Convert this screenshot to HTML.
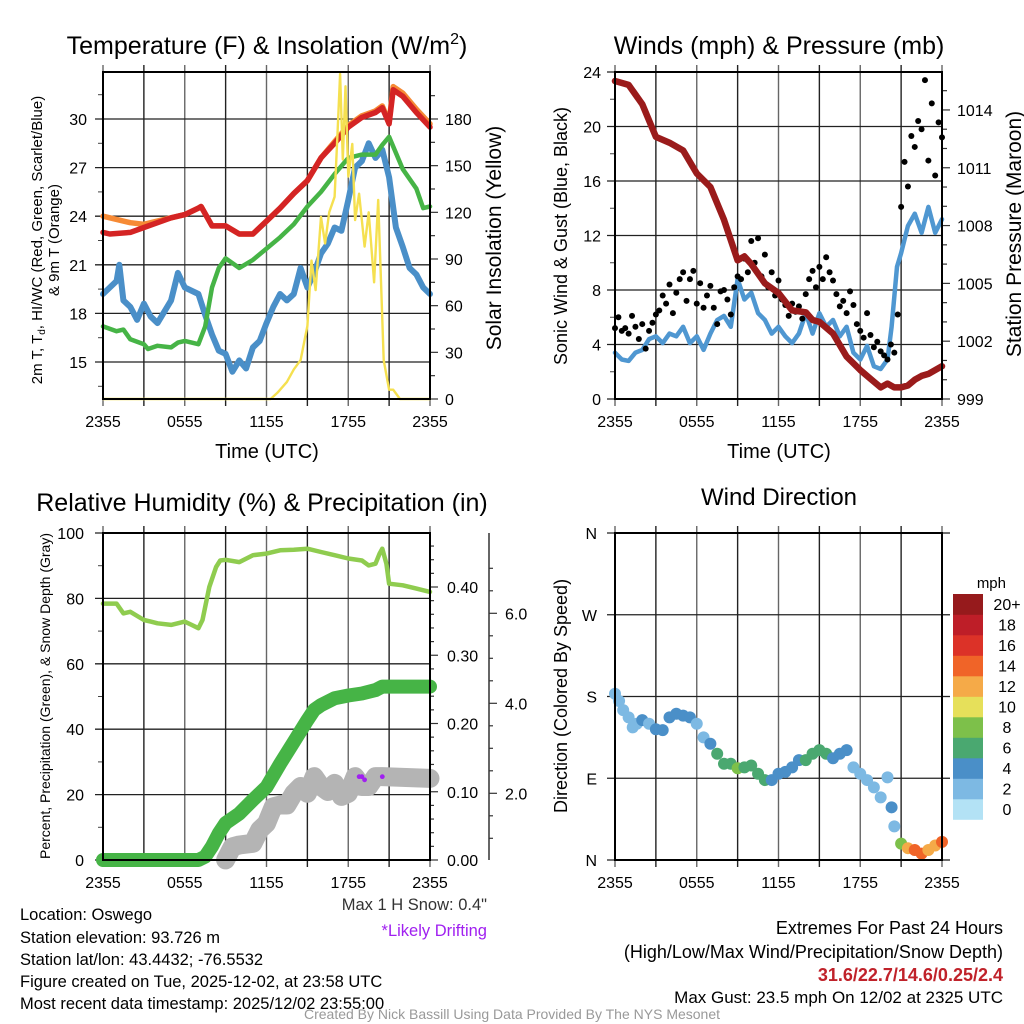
<!DOCTYPE html>
<html><head><meta charset="utf-8"><style>
body{margin:0;background:#fff;}
svg{display:block;font-family:"Liberation Sans",sans-serif;}
</style></head><body>
<svg id="chart" width="1024" height="1024" viewBox="0 0 1024 1024">
<rect width="1024" height="1024" fill="#fff"/>
<g id="layer"></g>
<text x="267" y="54" font-size="25" text-anchor="middle">Temperature (F) &amp; Insolation (W/m<tspan font-size="16" dy="-10">2</tspan><tspan dy="10">)</tspan></text>
<text x="779" y="54" font-size="25" text-anchor="middle">Winds (mph) &amp; Pressure (mb)</text>
<text x="262" y="511" font-size="25" text-anchor="middle">Relative Humidity (%) &amp; Precipitation (in)</text>
<text x="779" y="505" font-size="24" text-anchor="middle">Wind Direction</text>
<text x="267" y="458" font-size="20" text-anchor="middle">Time (UTC)</text>
<text x="779" y="458" font-size="20" text-anchor="middle">Time (UTC)</text>
<text transform="translate(42,240) rotate(-90)" font-size="15" text-anchor="middle">2m T, T<tspan font-size="10" dy="3">d</tspan><tspan dy="-3">, HI/WC (Red, Green, Scarlet/Blue)</tspan></text>
<text transform="translate(59,240) rotate(-90)" font-size="15" text-anchor="middle">&amp; 9m T (Orange)</text>
<text transform="translate(501,238) rotate(-90)" font-size="21" text-anchor="middle">Solar Insolation (Yellow)</text>
<text transform="translate(567,236) rotate(-90)" font-size="18" text-anchor="middle">Sonic Wind &amp; Gust (Blue, Black)</text>
<text transform="translate(1021,234) rotate(-90)" font-size="21" text-anchor="middle">Station Pressure (Maroon)</text>
<text transform="translate(50,696) rotate(-90)" font-size="14" text-anchor="middle">Percent, Precipitation (Green), &amp; Snow Depth (Gray)</text>
<text transform="translate(567,696) rotate(-90)" font-size="18" text-anchor="middle">Direction (Colored By Speed)</text>
<text x="1006" y="588" font-size="15" text-anchor="end">mph</text>
<g font-size="16.5">
<text x="20" y="920">Location: Oswego</text>
<text x="20" y="943">Station elevation: 93.726 m</text>
<text x="20" y="965">Station lat/lon: 43.4432; -76.5532</text>
<text x="20" y="987">Figure created on Tue, 2025-12-02, at 23:58 UTC</text>
<text x="20" y="1009">Most recent data timestamp: 2025/12/02 23:55:00</text>
</g>
<text x="487" y="910" font-size="16.5" text-anchor="end" fill="#333">Max 1 H Snow: 0.4"</text>
<text x="487" y="936" font-size="16.5" text-anchor="end" fill="#a020f0">*Likely Drifting</text>
<g font-size="18" text-anchor="end">
<text x="1003" y="934">Extremes For Past 24 Hours</text>
<text x="1003" y="958">(High/Low/Max Wind/Precipitation/Snow Depth)</text>
<text x="1003" y="981" fill="#c0222a" font-weight="bold">31.6/22.7/14.6/0.25/2.4</text>
<text x="1003" y="1003" font-size="17">Max Gust: 23.5 mph On 12/02 at 2325 UTC</text>
</g>
<text x="512" y="1019" font-size="14" text-anchor="middle" fill="#999">Created By Nick Bassill Using Data Provided By The NYS Mesonet</text>
</svg>
<script>
// ---- data (hours since 2355 UTC) ----
const timeLabels=["2355","0555","1155","1755","2355"];
const tH=[0,0.5,2,3,5,6,7,7.2,8,9,10,11,12,13,14,15,16,17,18,19,20,20.5,21,21.3,22,23,24];
const tempRed=[23.0,22.9,23.0,23.3,23.9,24.1,24.5,24.6,23.4,23.4,22.9,22.9,23.7,24.5,25.4,26.2,27.6,28.5,29.5,30.1,30.4,30.7,29.7,31.8,31.4,30.4,29.5];
const tempOrange=[24.0,23.9,23.6,23.5,23.9,24.1,24.5,24.6,23.4,23.4,22.9,22.9,23.7,24.5,25.4,26.2,27.6,28.6,29.6,30.2,30.5,30.8,29.8,32.0,31.6,30.6,29.7];
const tdH=[0,1,1.5,2,3,3.3,4,5,5.5,6,7,7.5,8,8.5,9,10,11,12,13,14,15,16,17,18,19,20,20.5,21,22,23,23.5,24];
const dewGreen=[17.2,16.9,17.0,16.4,16.1,15.8,16.0,15.9,16.2,16.3,16.1,17.2,19.6,20.8,21.4,20.8,21.3,22.0,22.7,23.5,24.6,25.5,26.6,27.6,27.8,27.8,28.4,28.9,26.9,25.7,24.5,24.6];
const wcH=[0,0.5,1,1.2,1.5,2,2.5,3,3.5,4,5,5.5,6,7,7.5,8,8.5,9,9.5,10,10.5,11,11.5,12,12.5,13,13.5,14,14.5,15,15.5,16,16.5,17,17.5,18,18.5,19,19.5,20,20.5,21,21.5,22,22.5,23,23.5,24];
const wcBlue=[19.2,19.6,20.0,21.0,18.8,18.4,17.6,18.6,17.8,17.4,18.8,20.5,19.6,19.2,17.9,16.7,15.7,15.5,14.4,15.1,14.6,15.9,16.3,17.4,18.4,19.2,18.8,19.2,20.8,19.6,20.5,21.7,22.3,23.3,23.1,25.0,27.0,27.4,28.5,27.6,28.1,26.4,23.3,22.1,20.8,20.4,19.6,19.2];
const solH=[0,12.3,12.8,13.5,14,14.5,15,15.3,15.6,16,16.3,16.6,17,17.2,17.4,17.6,17.8,18,18.3,18.5,18.8,19.2,19.5,19.9,20.2,20.6,21,21.3,21.8,24];
const solar=[0,0,4,11,19,25,47,89,70,117,100,120,130,169,209,154,201,143,164,115,132,98,120,75,128,25,6,6,0,0];
const tempTicks=[15,18,21,24,27,30];
const solarTicks=[0,30,60,90,120,150,180];

const prH=[0,1,2,3,4,5,6,7,8,9,9.5,10,11,12,13,14,14.5,15,16,17,18,19,19.5,20,20.5,21,21.5,22,22.5,23,24];
const pressure=[1015.5,1015.3,1014.3,1012.6,1012.3,1011.9,1010.7,1010.0,1008.3,1006.2,1006.4,1006.0,1005.0,1004.5,1003.6,1003.5,1003.1,1003.0,1002.4,1001.2,1000.5,999.9,999.6,999.8,999.6,999.6,999.7,1000.0,1000.2,1000.3,1000.7];
const wH=[0,0.5,1,1.5,2,2.5,3,3.5,4,4.5,5,5.5,6,6.5,7,7.5,8,8.5,9,9.5,10,10.5,11,11.5,12,12.5,13,13.5,14,14.5,15,15.5,16,16.5,17,17.5,18,18.5,19,19.5,20,20.3,20.7,21,21.5,22,22.5,23,23.5,24];
const windBlue=[3.4,2.9,2.8,3.4,3.6,4.4,4.6,4.1,4.8,4.6,5.3,4.1,4.6,3.6,4.8,5.8,6.1,5.3,8.8,7.3,7.8,6.3,5.8,4.8,5.3,4.6,4.1,4.8,6.3,4.8,6.3,5.3,5.8,4.6,5.3,3.4,2.9,3.9,2.4,2.2,2.9,5.3,9.7,10.7,12.7,13.6,12.2,14.1,12.2,13.2];
const gusts=[5.2,6.0,5.0,5.2,4.8,6.1,5.3,4.4,5.5,3.7,5.0,5.6,6.2,6.5,7.6,7.0,8.4,6.3,7.8,8.8,9.3,7.2,8.8,9.4,7.0,8.5,6.7,7.6,8.3,6.7,5.5,7.9,8.0,7.3,6.2,8.2,9.0,8.8,10.3,9.3,11.6,10.0,11.8,9.0,10.6,8.2,9.3,7.6,8.7,7.3,6.9,6.1,7.0,6.4,6.8,5.9,7.7,8.8,9.4,8.2,9.7,8.8,10.4,9.3,8.7,7.7,6.8,7.2,6.3,7.9,6.9,5.5,5.0,4.5,6.3,4.7,3.8,4.2,3.5,3.2,2.9,4.0,3.4,6.2,14.1,17.4,15.6,19.3,18.5,20.4,19.8,23.4,17.5,21.7,16.4,20.3,19.2];
const windTicks=[0,4,8,12,16,20,24];
const presTicks=[999,1002,1005,1008,1011,1014];

const rhH=[0,1,1.5,2,3,3.5,4,5,6,6.5,7,7.3,7.8,8.3,8.6,9,10,11,12,13,14,15,16,17,18,19,19.5,20,20.3,20.5,20.8,21,22,23,24];
const rh=[78.4,78.4,75.4,75.9,73.4,72.9,72.4,71.9,72.9,71.9,70.9,73.4,83.5,89.6,91.6,91.8,91.1,93.2,93.7,94.7,94.9,95.2,94.2,93.2,92.2,91.6,90.1,90.6,93.7,95.2,90.6,84.5,84.0,83.0,82.0];
const pcH=[0,7,7.5,8,8.5,9,10,11,12,13,14,15,15.5,16,17,18,19,20,20.5,24];
const precip=[0,0,0.005,0.02,0.039,0.054,0.068,0.088,0.107,0.141,0.173,0.205,0.22,0.227,0.237,0.241,0.244,0.249,0.254,0.254];
const snH=[9,9.5,10,11,11.5,12,12.5,13,13.5,14,14.5,15,15.5,16,16.5,17,17.5,18,18.5,19,19.5,20,20.5,24];
const snow=[0.52,0.81,0.85,0.89,1.19,1.33,1.70,1.74,1.74,2.0,2.15,2.0,2.37,2.15,2.04,2.22,1.93,2.0,2.37,2.15,2.15,2.37,2.37,2.33];
const driftH=[18.8,19.0,19.2,20.5];
const drift=[2.37,2.37,2.3,2.37];
const rhTicks=[0,20,40,60,80,100];
const precipTicks=[0,0.1,0.2,0.3,0.4];
const snowTicks=[2,4,6];

const dirH=[0,0.3,0.6,1,1.3,1.6,2,2.5,3,3.5,4,4.5,5,5.5,6,6.5,7,7.5,8,8.5,9,9.5,10,10.5,11,11.5,12,12.5,13,13.5,14,14.5,15,15.5,16,16.5,17,17.5,18,18.5,19,19.5,20,20.3,20.5,21,21.5,22,22.5,23,23.5,24];
const dirDeg=[183,175,165,157,146,150,154,150,144,143,157,161,159,157,150,135,128,117,106,106,101,102,104,95,88,88,95,97,102,110,110,117,121,117,112,117,121,102,95,88,80,69,91,58,37,18,13,11,7,11,16,20];
const dirSpeed=[3,2,2,2,2,3,4,3,4,4,4,4,4,4,3,3,4,6,6,7,8,7,6,6,6,4,4,4,4,5,6,6,6,6,4,4,4,3,2,3,2,2,3,4,2,9,12,14,15,12,13,14];
const dirLabels=["N","E","S","W","N"];
const dirTicks=[0,90,180,270,360];
const speedBins=["0","2","4","6","8","10","12","14","16","18","20+"];
const speedColors=["#b3e2f5","#7db9e3","#4a8fc8","#4aa870","#7dc04a","#e6e05a","#f5aa48","#f06428","#dc3228","#be1e28","#961a1c"];

// ---- helpers ----
const NS="http://www.w3.org/2000/svg";
const layer=document.getElementById('layer');
function mk(tag,attrs,parent){const e=document.createElementNS(NS,tag);for(const k in attrs)e.setAttribute(k,attrs[k]);(parent||layer).appendChild(e);return e;}
const L={x0:103,x1:430}, R={x0:615,x1:942};
const xs1=h=>L.x0+h/24*(L.x1-L.x0);
const xs2=h=>R.x0+h/24*(R.x1-R.x0);
const yTemp=v=>362-(v-15)*16.2;
const ySol=v=>399-v*1.5556;
const yWind=v=>399-v*13.625;
const yPres=p=>399-(p-999)*19.27;
const yRH=v=>860-v*3.27;
const yPcp=v=>860-v*682.5;
const ySnow=v=>883.3-45*v;
const yDir=d=>860-d*0.9083;
function pathD(hs,vs,xf,yf){return hs.map((h,i)=>(i?'L':'M')+xf(h).toFixed(1)+' '+yf(vs[i]).toFixed(1)).join(' ');}

function frame(x0,x1,y0,y1,name,yticks,yf,minor){
  const g=mk('g',{});
  
  
  for(let i=0;i<=8;i++){const x=x0+i*(x1-x0)/8;const l=mk('line',{x1:x,x2:x,y1:y0-7,y2:y1+7,stroke:i%2?'#222':'#666','stroke-width':1.4},g);
    
    }
  yticks.forEach(v=>{const y=yf(v);const l=mk('line',{x1:x0-8,x2:x1,y1:y,y2:y,stroke:'#222','stroke-width':1.3},g);
    
    });
  (minor||[]).forEach(v=>{const y=yf(v);mk('line',{x1:x0-5,x2:x0,y1:y,y2:y,stroke:'#444','stroke-width':1},g);});
  timeLabels.forEach((t,i)=>{const tx=mk('text',{x:x0+i*(x1-x0)/4,y:y1+28,'font-size':16,'text-anchor':'middle'},g);tx.textContent=t;
    
    });
  return g;
}
function border(x0,x1,y0,y1){const r=mk('rect',{x:x0,y:y0,width:x1-x0,height:y1-y0,fill:'none',stroke:'#000','stroke-width':2});
  
  }
function ylabels(ticks,yf,x,anchor,fmt,size){ticks.forEach(v=>{const t=mk('text',{x:x,y:yf(v)+6,'font-size':size||16,'text-anchor':anchor});t.textContent=fmt?fmt(v):v;
  
  });}
function rticks(x,ticks,yf,len){ticks.forEach(v=>mk('line',{x1:x,x2:x+len,y1:yf(v),y2:yf(v),stroke:'#333','stroke-width':1.2}));}
function series(hs,vs,xf,yf,color,w,name){const p=mk('path',{d:pathD(hs,vs,xf,yf),fill:'none',stroke:color,'stroke-width':w,'stroke-linejoin':'round','stroke-linecap':'round'});
  
  return p;}

// ---- Panel 1 ----
frame(L.x0,L.x1,72,399,'temperature',tempTicks,yTemp,[13.5,16.5,19.5,22.5,25.5,28.5,31.5]);
ylabels(tempTicks,yTemp,87,'end');
rticks(430,solarTicks,ySol,8);
rticks(430,[15,45,75,105,135,165,195],ySol,5);
ylabels(solarTicks,ySol,445,'start');
series(wcH,wcBlue,xs1,yTemp,'#4a8fc8',6,'windchill-line');
series(tdH,dewGreen,xs1,yTemp,'#46b446',4.5,'dewpoint-line');
series(tH,tempOrange,xs1,yTemp,'#f68a35',5.5,'temp-9m-line');
series(tH,tempRed,xs1,yTemp,'#d42424',5.5,'temp-2m-line');
series(solH,solar,xs1,ySol,'#f5e050',2.4,'solar-line');
border(L.x0,L.x1,72,399);

// ---- Panel 2 ----
frame(R.x0,R.x1,72,399,'winds',windTicks,yWind,[2,6,10,14,18,22]);
ylabels(windTicks,yWind,601,'end');
rticks(942,presTicks,yPres,8);
rticks(942,[1000,1001,1003,1004,1006,1007,1009,1010,1012,1013,1015],yPres,5);
ylabels(presTicks,yPres,957,'start');
series(wH,windBlue,xs2,yWind,'#4f97d1',4.5,'sonic-wind-line');
gusts.forEach((g,i)=>{const c=mk('circle',{cx:xs2(i*0.25),cy:yWind(g),r:3,fill:'#000'});
  
  });
series(prH,pressure,xs2,yPres,'#9a1b1b',6.5,'pressure-line');
border(R.x0,R.x1,72,399);

// ---- Panel 3 ----
frame(L.x0,L.x1,533,860,'humidity',rhTicks,yRH,[10,30,50,70,90]);
ylabels(rhTicks,yRH,84,'end');
rticks(430,precipTicks,yPcp,8);
rticks(430,[0.02,0.04,0.06,0.08,0.12,0.14,0.16,0.18,0.22,0.24,0.26,0.28,0.32,0.34,0.36,0.38,0.42,0.44,0.46],yPcp,4);
ylabels(precipTicks,yPcp,447,'start',v=>v.toFixed(2));
mk('line',{x1:489,x2:489,y1:533,y2:860,stroke:'#333','stroke-width':1.5});
rticks(489,snowTicks,ySnow,8);
rticks(489,[1,1.5,2.5,3,3.5,4.5,5,5.5,6.5,7],ySnow,4);
ylabels(snowTicks,ySnow,505,'start',v=>v.toFixed(1));
series(snH,snow,xs1,ySnow,'#b4b4b4',19,'snow-depth-line');
driftH.forEach((h,i)=>{const c=mk('circle',{cx:xs1(h),cy:ySnow(drift[i]),r:2.4,fill:'#a020f0'});
  
  });
series(pcH,precip,xs1,yPcp,'#46b446',14,'precip-line');
series(rhH,rh,xs1,yRH,'#8fcc4f',4.5,'rh-line');
border(L.x0,L.x1,533,860);

// ---- Panel 4 ----
frame(R.x0,R.x1,533,860,'direction',dirTicks,yDir,[]);
dirTicks.forEach(d=>mk('line',{x1:942,x2:950,y1:yDir(d),y2:yDir(d),stroke:'#222','stroke-width':1.3}));
ylabels(dirTicks,yDir,597,'end',v=>dirLabels[dirTicks.indexOf(v)],16);
dirH.forEach((h,i)=>{const bin=Math.min(10,Math.floor(dirSpeed[i]/2));
  const c=mk('circle',{cx:xs2(h),cy:yDir(dirDeg[i]),r:6,fill:speedColors[bin]});
  
  });
border(R.x0,R.x1,533,860);
// colorbar
const cb=mk('g',{});


speedBins.forEach((lab,i)=>{const j=10-i;const y=594+j*20.5;
  const r=mk('rect',{x:953,y:y,width:30,height:20.8,fill:speedColors[i]},cb);
  
  
  const t=mk('text',{x:1007,y:y+16,'font-size':16,'text-anchor':'middle'},cb);t.textContent=lab;
  
  });
</script>
</body></html>
